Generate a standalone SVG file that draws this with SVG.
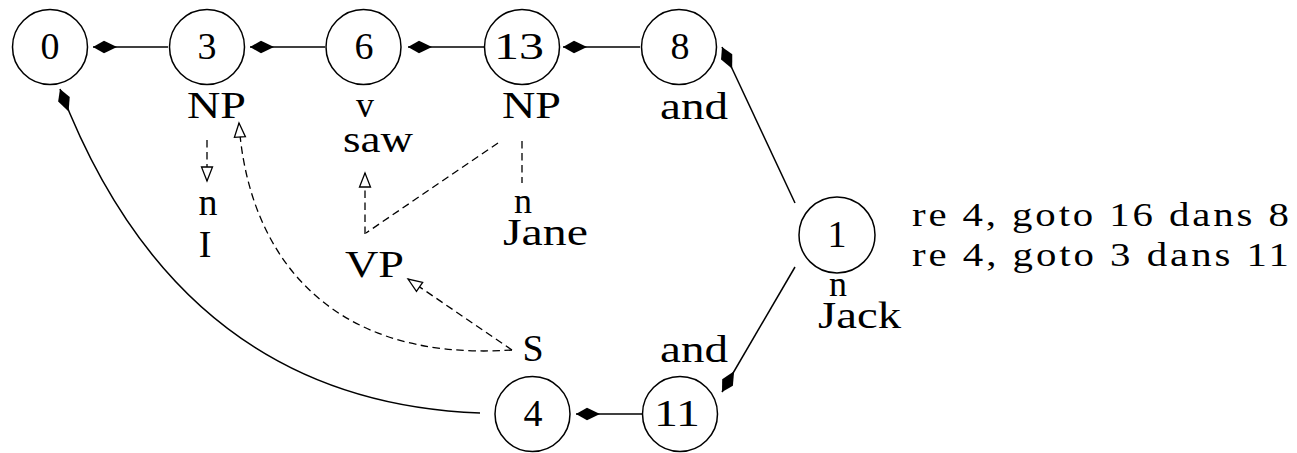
<svg xmlns="http://www.w3.org/2000/svg" width="1297" height="453" viewBox="0 0 1297 453">
  <style>
    .node circle { fill: #fff; stroke: #000; stroke-width: 1.5; }
    text { font-family: "Liberation Serif", "Times New Roman", serif; font-size: 38px; fill: #000; }
    .num { text-anchor: middle; }
    .mid { text-anchor: middle; }
    .small { font-size: 36px; }
    .note { font-size: 34px; }
    .solid { fill: none; stroke: #000; stroke-width: 1.5; }
    .dash { fill: none; stroke: #000; stroke-width: 1.3; stroke-dasharray: 7.5 4.5; }
  </style>
  <defs>
    <!-- filled kite head for transitions -->
    <marker id="kite" markerUnits="userSpaceOnUse" viewBox="-28 -8 32 16" markerWidth="32" markerHeight="16" refX="0" refY="0" orient="auto">
      <path d="M0,0 L-11,-6.2 L-24,0 L-11,6.2 Z" fill="#000"/>
    </marker>
    <!-- hollow triangle head for dependency links -->
    <marker id="tri" markerUnits="userSpaceOnUse" viewBox="-17 -8 19 16" markerWidth="19" markerHeight="16" refX="0" refY="0" orient="auto">
      <path d="M0,0 L-14,-5.5 L-14,5.5 Z" fill="#fff" stroke="#000" stroke-width="1.3" stroke-linejoin="miter"/>
    </marker>
  </defs>

  <g id="connectors">
    <!-- transitions between states -->
    <line class="solid" x1="168" y1="47" x2="93" y2="47" marker-end="url(#kite)"/>
    <line class="solid" x1="325" y1="47" x2="250" y2="47" marker-end="url(#kite)"/>
    <line class="solid" x1="484" y1="47" x2="408" y2="47" marker-end="url(#kite)"/>
    <line class="solid" x1="640" y1="47" x2="563" y2="47" marker-end="url(#kite)"/>
    <line class="solid" x1="795" y1="203" x2="722" y2="47" marker-end="url(#kite)"/>
    <line class="solid" x1="795" y1="267" x2="722" y2="392" marker-end="url(#kite)"/>
    <line class="solid" x1="642" y1="414" x2="576" y2="414" marker-end="url(#kite)"/>
    <path class="solid" d="M480,413 Q180,402 60,89" marker-end="url(#kite)"/>

    <!-- dependency links -->
    <line class="dash" x1="207" y1="140" x2="207" y2="181" marker-end="url(#tri)"/>
    <path class="dash" d="M512,350 C320,363 247,245 239,123" marker-end="url(#tri)"/>
    <line class="dash" x1="522" y1="141" x2="522" y2="183"/>
    <line class="dash" x1="498" y1="143" x2="366" y2="233"/>
    <line class="dash" x1="365" y1="234" x2="365" y2="173" marker-end="url(#tri)"/>
    <line class="dash" x1="512" y1="350" x2="408" y2="279" marker-end="url(#tri)"/>
  </g>

  <g id="n0" class="node">
    <circle cx="50" cy="47" r="37.5"/>
    <text class="num" x="50" y="58.5">0</text>
  </g>
  <g id="n3" class="node">
    <circle cx="207" cy="47" r="37.5"/>
    <text class="num" x="207" y="58.5">3</text>
    <text x="187" y="118" textLength="59" lengthAdjust="spacingAndGlyphs">NP</text>
  </g>
  <g id="n6" class="node">
    <circle cx="363.5" cy="47" r="37.5"/>
    <text class="num" x="364" y="58.5">6</text>
    <text class="mid small" x="365" y="117">v</text>
    <text x="343" y="152" textLength="70" lengthAdjust="spacingAndGlyphs">saw</text>
  </g>
  <g id="n13" class="node">
    <circle cx="522" cy="47" r="37.5"/>
    <text x="494" y="58.5" textLength="50" lengthAdjust="spacingAndGlyphs">13</text>
    <text x="502" y="118" textLength="59" lengthAdjust="spacingAndGlyphs">NP</text>
  </g>
  <g id="n8" class="node">
    <circle cx="679" cy="47" r="37.5"/>
    <text class="num" x="680" y="58.5">8</text>
    <text x="660" y="119" textLength="68" lengthAdjust="spacingAndGlyphs">and</text>
  </g>
  <g id="n1" class="node">
    <circle cx="837" cy="235" r="38"/>
    <text class="num" x="837" y="247">1</text>
    <text class="mid small" x="838" y="296">n</text>
    <text x="818" y="328" textLength="83" lengthAdjust="spacingAndGlyphs">Jack</text>
  </g>
  <g id="n4" class="node">
    <circle cx="532.5" cy="414" r="37.5"/>
    <text class="num" x="533" y="425.5">4</text>
    <text class="mid" x="533" y="361">S</text>
  </g>
  <g id="n11" class="node">
    <circle cx="680" cy="414" r="37.5"/>
    <text x="654" y="425.5" textLength="46" lengthAdjust="spacingAndGlyphs">11</text>
    <text x="660" y="362" textLength="68" lengthAdjust="spacingAndGlyphs">and</text>
  </g>

  <g id="deps">
    <text class="mid" x="208" y="215">n</text>
    <text class="mid" x="205" y="257">I</text>
    <text class="mid small" x="523" y="213">n</text>
    <text x="503" y="245" textLength="85" lengthAdjust="spacingAndGlyphs">Jane</text>
    <text x="345" y="277" textLength="59" lengthAdjust="spacingAndGlyphs">VP</text>
  </g>

  <!-- side notes, widened slightly to the serif's set width -->
  <g id="notes">
    <text class="note" transform="translate(912,226) scale(1.2,1)" x="0" y="0" textLength="314" lengthAdjust="spacing">re 4, goto 16 dans 8</text>
    <text class="note" transform="translate(912,266) scale(1.2,1)" x="0" y="0" textLength="314" lengthAdjust="spacing">re 4, goto 3 dans 11</text>
  </g>
</svg>
